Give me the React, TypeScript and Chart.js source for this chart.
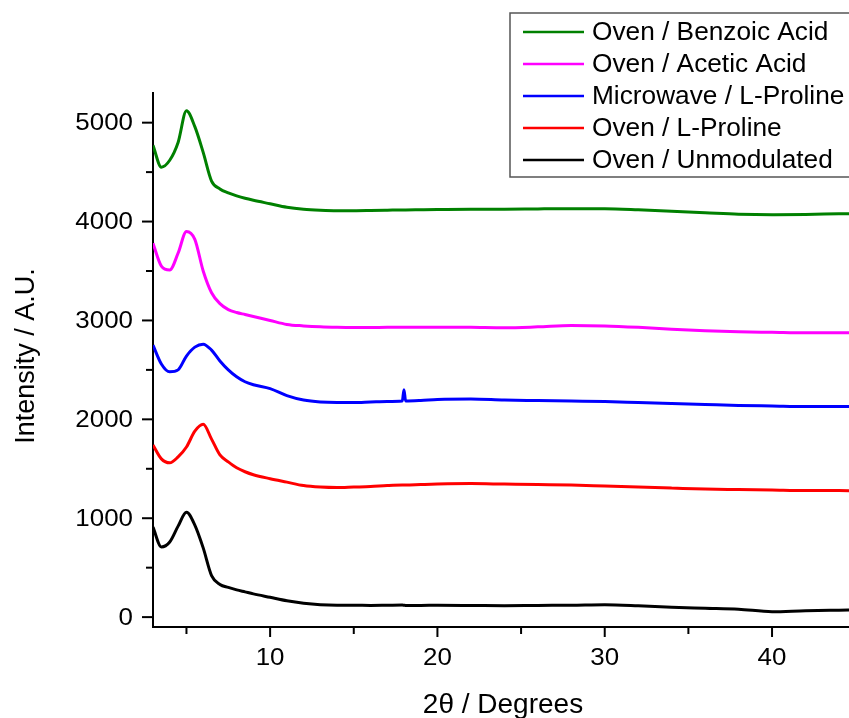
import React, { useEffect, useRef } from "react";
import { Chart, registerables } from "chart.js";

Chart.register(...registerables);

// 2θ positions (degrees)
const twoTheta = [
  3, 3.5, 4, 4.5, 5, 5.5, 6, 6.5, 7, 7.5, 8, 8.5, 9, 10, 11, 12, 13, 14, 15, 16, 17,
  17.9, 18, 18.1, 19, 20, 22, 24, 26, 28, 30, 32, 34, 36, 38, 40, 42, 44, 45,
];

const benzoicAcid = [
  4770, 4550, 4620, 4800, 5120, 4960, 4700, 4410, 4330, 4290, 4260, 4235, 4215, 4180, 4145,
  4125, 4115, 4110, 4110, 4112, 4115, 4118, 4118, 4118, 4120, 4122, 4125, 4125, 4128, 4130,
  4130, 4120, 4105, 4090, 4075, 4070, 4072, 4078, 4080,
];

const aceticAcid = [
  3780, 3550, 3510, 3680, 3900, 3820, 3500, 3280, 3170, 3110, 3080, 3060, 3040, 3000, 2960,
  2945, 2935, 2930, 2928, 2928, 2930, 2930, 2930, 2930, 2930, 2932, 2930, 2925, 2935, 2950,
  2945, 2930, 2910, 2895, 2885, 2880, 2875, 2875, 2875,
];

const microwaveProline = [
  2750, 2560, 2480, 2500, 2640, 2730, 2760, 2700, 2590, 2500, 2430, 2380, 2350, 2310, 2240,
  2195, 2175, 2170, 2170, 2175, 2180, 2185, 2300, 2185, 2190, 2200, 2205, 2195, 2190, 2185,
  2180, 2170, 2160, 2150, 2140, 2135, 2130, 2130, 2130,
];

const ovenProline = [
  1740, 1600, 1560, 1620, 1720, 1880, 1950, 1800, 1640, 1570, 1510, 1470, 1440, 1400, 1365,
  1330, 1315, 1310, 1315, 1320, 1330, 1335, 1335, 1335, 1340, 1345, 1350, 1345, 1340, 1335,
  1325, 1315, 1305, 1295, 1290, 1285, 1280, 1280, 1278,
];

const unmodulated = [
  910, 710, 760, 920, 1060, 930, 700, 420, 330, 300, 275, 255, 235, 200, 165, 140, 125, 120,
  120, 118, 120, 122, 120, 118, 118, 120, 118, 115, 118, 120, 125, 115, 100, 90, 80, 55, 65,
  70, 72,
];

const seriesLabels = [
  "Oven / Benzoic Acid",
  "Oven / Acetic Acid",
  "Microwave / L-Proline",
  "Oven / L-Proline",
  "Oven / Unmodulated",
];
const seriesValues = [benzoicAcid, aceticAcid, microwaveProline, ovenProline, unmodulated];
const seriesColors = ["#008000", "#ff00ff", "#0000ff", "#ff0000", "#000000"];

const yMajorTicks = [0, 1000, 2000, 3000, 4000, 5000];
const yMinorTicks = [500, 1500, 2500, 3500, 4500];
const xMajorTicks = [10, 20, 30, 40];
const xMinorTicks = [5, 15, 25, 35];

const FONT = '"Liberation Sans", Arial, sans-serif';

function stretchedText(
  ctx: CanvasRenderingContext2D,
  text: string,
  x: number,
  y: number,
  sx: number
) {
  ctx.save();
  ctx.translate(x, y);
  ctx.scale(sx, 1);
  ctx.fillText(text, 0, 0);
  ctx.restore();
}

const decorPlugin = {
  id: "decor",
  afterDraw(chart: any) {
    const ctx = chart.ctx as CanvasRenderingContext2D;
    const xs = chart.scales.x;
    const ys = chart.scales.y;
    const { left, bottom, right } = chart.chartArea;
    ctx.save();
    ctx.strokeStyle = "#000";
    ctx.fillStyle = "#000";
    ctx.lineWidth = 2;

    // y ticks
    const drawY = (v: number, len: number) => {
      const py = ys.getPixelForValue(v);
      ctx.beginPath();
      ctx.moveTo(left, py);
      ctx.lineTo(left - len, py);
      ctx.stroke();
    };
    yMinorTicks.forEach((v) => drawY(v, 7));
    yMajorTicks.forEach((v) => drawY(v, 11));
    ctx.font = `24px ${FONT}`;
    ctx.textAlign = "right";
    ctx.textBaseline = "middle";
    yMajorTicks.forEach((v) => {
      stretchedText(ctx, String(v), left - 20, ys.getPixelForValue(v) + 1, 1.08);
    });

    // x ticks
    const drawX = (v: number, len: number) => {
      const px = xs.getPixelForValue(v);
      ctx.beginPath();
      ctx.moveTo(px, bottom);
      ctx.lineTo(px, bottom + len);
      ctx.stroke();
    };
    xMinorTicks.forEach((v) => drawX(v, 7));
    xMajorTicks.forEach((v) => drawX(v, 10));
    ctx.textAlign = "center";
    ctx.textBaseline = "alphabetic";
    xMajorTicks.forEach((v) => {
      stretchedText(ctx, String(v), xs.getPixelForValue(v), bottom + 38, 1.08);
    });

    // axis titles
    ctx.font = `28px ${FONT}`;
    ctx.fillText("2θ / Degrees", (left + right) / 2 + 2, 713);
    ctx.save();
    ctx.font = `27px ${FONT}`;
    ctx.translate(34, 356);
    ctx.rotate(-Math.PI / 2);
    ctx.textAlign = "center";
    ctx.fillText("Intensity / A.U.", 0, 0);
    ctx.restore();

    // legend box
    ctx.fillStyle = "#fff";
    ctx.fillRect(510, 13, 360, 164);
    ctx.strokeStyle = "#555";
    ctx.lineWidth = 1.5;
    ctx.strokeRect(510, 13, 360, 164);
    ctx.font = `25px ${FONT}`;
    ctx.textAlign = "left";
    ctx.textBaseline = "middle";
    seriesLabels.forEach((label, i) => {
      const cy = 32 + i * 32;
      ctx.strokeStyle = seriesColors[i];
      ctx.lineWidth = 2.5;
      ctx.beginPath();
      ctx.moveTo(523, cy);
      ctx.lineTo(584, cy);
      ctx.stroke();
      ctx.fillStyle = "#000";
      stretchedText(ctx, label, 592, cy + 1, 1.05);
    });
    ctx.restore();
  },
};

export default function App() {
  const canvasRef = useRef<HTMLCanvasElement | null>(null);

  useEffect(() => {
    const canvas = canvasRef.current;
    if (!canvas) return;
    const chart = new Chart(canvas, {
      type: "line",
      data: {
        datasets: seriesLabels.map((label, i) => ({
          label,
          data: twoTheta.map((x, j) => ({ x, y: seriesValues[i][j] })),
          borderColor: seriesColors[i],
          backgroundColor: seriesColors[i],
          borderWidth: 3,
          pointRadius: 0,
          cubicInterpolationMode: "monotone" as const,
          fill: false,
        })),
      },
      options: {
        responsive: false,
        animation: false,
        layout: { padding: { top: 93, left: 0, right: 0, bottom: 0 } },
        plugins: { legend: { display: false }, tooltip: { enabled: false } },
        scales: {
          x: {
            type: "linear",
            min: 3,
            max: 44.6,
            grid: { display: false },
            ticks: { display: false },
            border: { display: true, color: "#000", width: 2 },
            afterFit: (s: any) => {
              s.height = 91;
            },
          },
          y: {
            type: "linear",
            min: -100,
            max: 5300,
            grid: { display: false },
            ticks: { display: false },
            border: { display: true, color: "#000", width: 2 },
            afterFit: (s: any) => {
              s.width = 153;
            },
          },
        },
      },
      plugins: [decorPlugin],
    });
    return () => chart.destroy();
  }, []);

  return (
    <div style={{ position: "absolute", left: 0, top: 0, width: 849, height: 718, background: "#fff" }}>
      <canvas ref={canvasRef} width={849} height={718} />
    </div>
  );
}
